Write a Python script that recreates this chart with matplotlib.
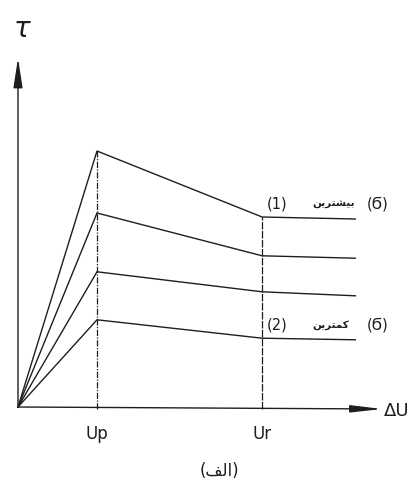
import matplotlib
matplotlib.use("Agg")
import matplotlib.pyplot as plt

# Shear stress vs. horizontal displacement for four normal-stress levels
u_points = [0.0, 1.0, 3.09, 4.27]          # 0, U_p, U_r, end of residual branch
tau_curves = [
    [0.0, 6.40, 4.75, 4.70],   # (1) highest normal stress
    [0.0, 4.85, 3.78, 3.72],
    [0.0, 3.38, 2.88, 2.78],
    [0.0, 2.18, 1.72, 1.68],   # (2) lowest normal stress
]
tick_labels = ["Up", "Ur"]
u_peak, u_res = u_points[1], u_points[2]

# Persian captions in presentation forms (visual order)
txt_max = "\ufee6\ufef3\ufeae\ufe98\ufeb8\ufef4\ufe91"   # بیشترین
txt_min = "\ufee6\ufef3\ufeae\ufe98\ufee4\ufedb"          # کمترین
txt_cap = "(\ufed2\ufedf\ufe8d)"                          # (الف)

W, H = 416, 484
fig = plt.figure(figsize=(W / 100, H / 100), dpi=100)
ax = fig.add_axes([0, 0, 1, 1])
px_x, px_y = 79.0, 40.0           # pixels per data unit
ox, oy = 18.0, 407.0              # origin in pixels
ax.set_xlim(-ox / px_x, (W - ox) / px_x)
ax.set_ylim((oy - H) / px_y, oy / px_y)
ax.axis("off")

ink = "#1e1e1e"

# axes with arrows
ax.annotate("", xy=(0, 8.72), xytext=(0, 0),
            arrowprops=dict(arrowstyle="-|>,head_length=1.8,head_width=0.28",
                            mutation_scale=10, lw=1.0, color=ink,
                            shrinkA=0, shrinkB=0))
ax.annotate("", xy=(4.61, -0.05), xytext=(0, 0),
            arrowprops=dict(arrowstyle="-|>,head_length=1.9,head_width=0.22",
                            mutation_scale=10, lw=1.0, color=ink,
                            shrinkA=0, shrinkB=0))

# stress-displacement curves
for tau in tau_curves:
    ax.plot(u_points, tau, color=ink, lw=1.0, solid_joinstyle="miter")

# vertical guides at U_p and U_r
ax.plot([u_peak, u_peak], [-0.05, tau_curves[0][1]], color=ink, lw=0.9,
        linestyle=(0, (5, 1.2, 1, 1.2)))
ax.plot([u_res, u_res], [-0.05, tau_curves[0][2]], color=ink, lw=0.9,
        linestyle=(0, (6, 1.2)))

# axis labels
ax.text(4.63, -0.1, "\u0394U", fontsize=13, color=ink, va="center", ha="left")
ax.text(0.05, 9.45, "\u03c4", fontsize=20, color=ink, style="italic",
        ha="center", va="center")
ax.text(u_peak, -0.45, tick_labels[0], fontsize=12, color=ink,
        ha="center", va="top")
ax.text(u_res, -0.45, tick_labels[1], fontsize=12, color=ink,
        ha="center", va="top")

# curve annotations
y1 = tau_curves[0][2] + 0.32
y2 = tau_curves[3][2] + 0.32
for y, num, word in [(y1, "(1)", txt_max), (y2, "(2)", txt_min)]:
    ax.text(3.15, y, num, fontsize=10.5, color=ink, ha="left", va="center")
    ax.text(3.73, y, word, fontsize=7.5, color=ink, ha="left", va="center",
            fontweight="bold", family="DejaVu Sans")
    ax.text(4.42, y, "(\u03ec)", fontsize=10.5, color=ink, ha="left",
            va="center")

# figure caption
ax.text((219 - ox) / px_x, (oy - 471) / px_y, txt_cap, fontsize=12,
        color=ink, ha="center", va="center", family="DejaVu Sans")

fig.savefig("out.png", dpi=100)
